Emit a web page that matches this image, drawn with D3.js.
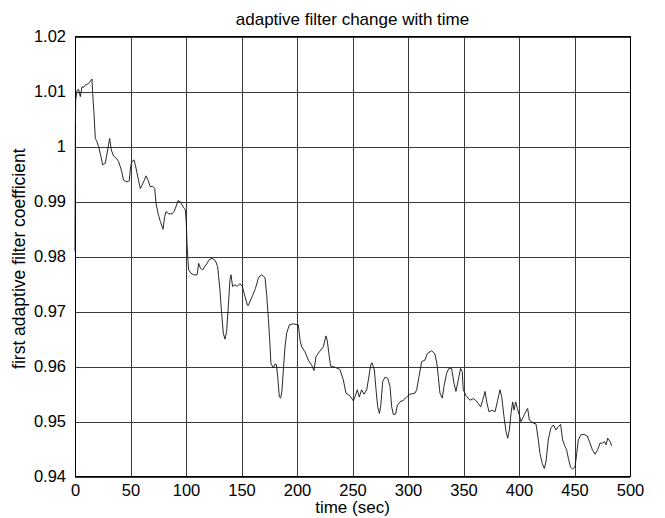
<!DOCTYPE html>
<html>
<head>
<meta charset="utf-8">
<script src="https://cdn.jsdelivr.net/npm/d3@7"></script>
<style>
  body { margin: 0; background: #fff; }
  text { font-family: "Liberation Sans", Arial, Helvetica, sans-serif; fill: #000; }
</style>
</head>
<body>
<div id="chart"></div>
<script>
// time (sec)
let times = [0, 0.3, 0.6, 1.8, 3.3, 4.8, 6.3, 7.8, 9.3, 12.3, 15.3, 15.9, 17.1, 18.3, 19.8, 21.3, 23.4, 24.9, 27.3, 29.4,
  31.2, 32.7, 34.8, 37.2, 39.3, 41.7, 43.8, 46.8, 48.9, 50.1, 51.3, 53.2, 55, 56.8, 58.8, 60.4, 62.4, 64, 65.8, 67.9,
  70, 71.8, 73, 74.8, 76.9, 79.3, 80.8, 82, 84.4, 87.4, 89.2, 91, 92.8, 94.9, 97, 99.4, 100.3, 100.9, 101.8, 102.4,
  104.5, 106.9, 110, 111.4, 113, 115, 116.9, 119, 121, 123.4, 126.4, 128.5, 129.4, 130.6, 132.1, 133.6, 135.1, 136.6, 138.1, 139.6,
  140.5, 142, 144.1, 146.2, 148.6, 150.7, 153.2, 155.3, 156.1, 158.2, 160.1, 162.5, 165.2, 166.7, 168.2, 171.2, 172.7, 174.2, 175.4, 176.5,
  178.7, 180.2, 181.4, 182.6, 184.1, 185.3, 186.5, 187.7, 189.2, 190.7, 193.1, 196.7, 201.2, 202.7, 204.2, 207.2, 210.2, 213.2, 215.3, 217.1,
  220.1, 223.7, 226.1, 227.3, 229.1, 230.3, 234.2, 238.7, 241.7, 244.1, 247.7, 250.7, 252.2, 254.3, 256.1, 258.2, 260.4, 262.8, 264.3, 266.4,
  267.5, 269.7, 271.2, 272.7, 274.3, 275.6, 277.2, 279.3, 281.7, 283.8, 285.3, 286.8, 288.9, 290.4, 292.8, 295.8, 298.8, 301.8, 306.3, 307.8,
  309.9, 312.3, 315.3, 317.4, 321.3, 324.3, 326, 327.3, 328.8, 330.9, 332.4, 334.8, 336.9, 339.3, 341.4, 343.2, 345.3, 347.4, 348.9, 349.8,
  352.3, 355.9, 358.9, 361, 363.3, 365.5, 367.3, 369.4, 370.9, 373, 375.5, 378.4, 380.8, 382.9, 384.4, 386.5, 388.3, 389.8, 391.3, 392.8,
  394.3, 395.5, 397, 398.5, 400.3, 401.8, 403.9, 406, 407.8, 409.3, 411.4, 413.5, 415.3, 417.4, 418.9, 421, 422.8, 424.3, 426.4, 428.6,
  431, 433.3, 435.4, 437.5, 439.3, 441.4, 442.9, 444.7, 446.5, 448.3, 450.5, 452, 453.4, 455.6, 458.6, 461.5, 464, 466.1, 468.5, 470.6,
  473, 475.4, 477, 478.4, 479.9, 482, 483.5];

// first adaptive filter coefficient
let coeffs = [0.981, 1.0035, 1.0085, 1.0102, 1.0104, 1.0091, 1.0109, 1.0108, 1.0112, 1.0115, 1.0123, 1.0097, 1.0061, 1.0015, 1.0009, 1.0000, 0.9982, 0.9967, 0.9970, 0.9994,
  1.0015, 0.9994, 0.9983, 0.9979, 0.9973, 0.9958, 0.9939, 0.9936, 0.9938, 0.9964, 0.9973, 0.9976, 0.9961, 0.9943, 0.9924, 0.9930, 0.9939, 0.9947, 0.9939, 0.9927,
  0.9928, 0.9924, 0.9897, 0.9879, 0.9864, 0.9850, 0.9873, 0.9882, 0.9878, 0.9878, 0.9882, 0.9891, 0.9902, 0.9900, 0.9892, 0.9885, 0.9861, 0.9824, 0.9791, 0.9776,
  0.9770, 0.9767, 0.9767, 0.9788, 0.9779, 0.9776, 0.9782, 0.9788, 0.9795, 0.9797, 0.9793, 0.9782, 0.9764, 0.9739, 0.9697, 0.9661, 0.9650, 0.9664, 0.9709, 0.9758,
  0.9767, 0.9746, 0.9749, 0.9746, 0.9751, 0.9746, 0.9727, 0.9712, 0.9711, 0.9721, 0.9730, 0.9742, 0.9761, 0.9765, 0.9767, 0.9762, 0.9730, 0.9688, 0.9649, 0.9606,
  0.9598, 0.9605, 0.9604, 0.9582, 0.9545, 0.9543, 0.9557, 0.9594, 0.9636, 0.9661, 0.9676, 0.9678, 0.9676, 0.9649, 0.9636, 0.9627, 0.9612, 0.9603, 0.9593, 0.9618,
  0.9627, 0.9636, 0.9656, 0.9647, 0.9618, 0.9601, 0.9599, 0.9595, 0.9576, 0.9552, 0.9547, 0.9538, 0.9545, 0.9558, 0.9545, 0.9558, 0.9550, 0.9558, 0.9576, 0.9603,
  0.9607, 0.9594, 0.9558, 0.9527, 0.9515, 0.9531, 0.9573, 0.9581, 0.9579, 0.9564, 0.9527, 0.9513, 0.9514, 0.9530, 0.9536, 0.9539, 0.9545, 0.9550, 0.9552, 0.9558,
  0.9582, 0.9609, 0.9612, 0.9624, 0.9629, 0.9623, 0.9606, 0.9582, 0.9552, 0.9543, 0.9564, 0.9588, 0.9597, 0.9597, 0.9570, 0.9555, 0.9576, 0.9597, 0.9591, 0.9558,
  0.9547, 0.9539, 0.9542, 0.9539, 0.9533, 0.9527, 0.9539, 0.9555, 0.9536, 0.9518, 0.9521, 0.9518, 0.9539, 0.9558, 0.9546, 0.9509, 0.9482, 0.9470, 0.9485, 0.9515,
  0.9536, 0.9521, 0.9536, 0.9524, 0.9512, 0.9500, 0.9509, 0.9518, 0.9524, 0.9503, 0.9500, 0.9497, 0.9496, 0.9467, 0.9442, 0.9424, 0.9415, 0.9427, 0.9467, 0.9488,
  0.9494, 0.9485, 0.9491, 0.9495, 0.9467, 0.9455, 0.9449, 0.9431, 0.9417, 0.9414, 0.9418, 0.9442, 0.9467, 0.9476, 0.9477, 0.9474, 0.9461, 0.9449, 0.9441, 0.9448,
  0.9461, 0.9461, 0.9464, 0.9458, 0.9470, 0.9464, 0.9456];

let xTicks = [0, 50, 100, 150, 200, 250, 300, 350, 400, 450, 500];
let yTicks = [0.94, 0.95, 0.96, 0.97, 0.98, 0.99, 1.00, 1.01, 1.02];

let title = "adaptive filter change with time";
let xLabel = "time (sec)";
let yLabel = "first adaptive filter coefficient";

function chartConfig(){
    let width = 665, height = 518;
    let margin = { top: 36.7, left: 75, right: 35, bottom: 41.3 };
    let bodyWidth = width - margin.left - margin.right;
    let bodyHeight = height - margin.top - margin.bottom;
    let svg = d3.select("#chart").append("svg")
        .attr("width", width)
        .attr("height", height);
    let container = svg.append("g")
        .attr("transform", "translate(" + [margin.left, margin.top] + ")");
    return { width, height, margin, bodyWidth, bodyHeight, svg, container };
}

function chartScales(config){
    let xScale = d3.scaleLinear().domain([0, 500]).range([0, config.bodyWidth]);
    let yScale = d3.scaleLinear().domain([0.94, 1.02]).range([config.bodyHeight, 0]);
    return { xScale, yScale };
}

function drawChart(config, scales){
    let { container, svg, bodyWidth, bodyHeight, margin } = config;
    let { xScale, yScale } = scales;

    // x axis with grid
    let axisX = d3.axisBottom(xScale)
        .tickValues(xTicks)
        .tickSizeInner(-bodyHeight)
        .tickSizeOuter(0)
        .tickPadding(7.5)
        .tickFormat(d3.format("d"));
    let gx = container.append("g")
        .attr("transform", "translate(0," + bodyHeight + ")")
        .call(axisX);
    gx.select(".domain").remove();
    gx.selectAll("line").attr("stroke", "#3a3a3a").attr("shape-rendering", "crispEdges");
    gx.selectAll("text").style("font-size", "16.5px");

    // y axis with grid
    let axisY = d3.axisLeft(yScale)
        .tickValues(yTicks)
        .tickSizeInner(-bodyWidth)
        .tickSizeOuter(0)
        .tickPadding(9)
        .tickFormat(d => String(+d.toFixed(2)));
    let gy = container.append("g").call(axisY);
    gy.select(".domain").remove();
    gy.selectAll("line").attr("stroke", "#3a3a3a").attr("shape-rendering", "crispEdges");
    gy.selectAll("text").style("font-size", "16.5px");

    // box
    container.append("rect")
        .attr("x", 0).attr("y", 0)
        .attr("width", bodyWidth).attr("height", bodyHeight)
        .attr("fill", "none")
        .attr("stroke", "#000")
        .attr("shape-rendering", "crispEdges");

    // series
    let pts = times.map((t, i) => [t, coeffs[i]]);
    let line = d3.line()
        .x(d => xScale(d[0]))
        .y(d => yScale(d[1]));
    container.append("path")
        .datum(pts)
        .attr("d", line)
        .attr("fill", "none")
        .attr("stroke", "#111")
        .attr("stroke-width", 0.9);

    // labels
    svg.append("text")
        .attr("x", margin.left + bodyWidth / 2)
        .attr("y", 25)
        .attr("text-anchor", "middle")
        .style("font-size", "17px")
        .text(title);

    svg.append("text")
        .attr("x", margin.left + bodyWidth / 2)
        .attr("y", 513)
        .attr("text-anchor", "middle")
        .style("font-size", "17px")
        .text(xLabel);

    svg.append("text")
        .attr("transform", "translate(25," + (margin.top + bodyHeight / 2 + 2) + ") rotate(-90)")
        .attr("text-anchor", "middle")
        .style("font-size", "17.5px")
        .text(yLabel);
}

let config = chartConfig();
let scales = chartScales(config);
drawChart(config, scales);
</script>
</body>
</html>
